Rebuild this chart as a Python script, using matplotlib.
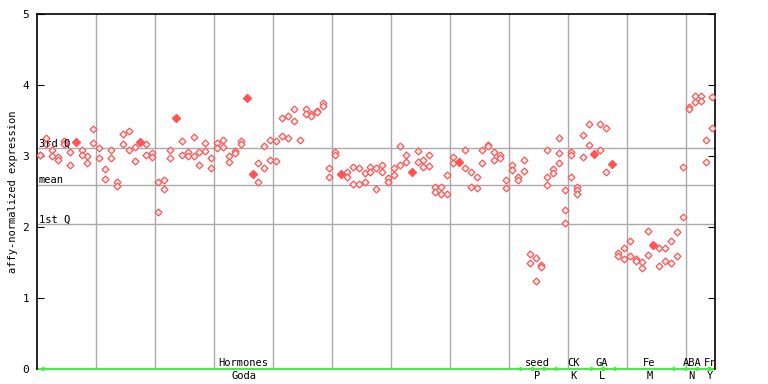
import numpy as np
import matplotlib
matplotlib.use("Agg")
import matplotlib.pyplot as plt

nan = np.nan

# replicate values per sample (two open diamonds per sample)
rep_a = [3.02, 3.25, 3.09, 2.98, 3.21, 3.05, nan, 3.08, 3.00, 3.38,
         3.11, 2.81, 3.09, 2.64, 3.31, 3.35, 3.13, nan, 3.17, 3.04,
         2.63, 2.66, 3.09, nan, 3.21, 3.05, 3.27, 3.05, 3.18, 2.97,
         3.18, 3.22, 3.00, 3.07, 3.21, nan, nan, 2.90, 3.14, 3.22,
         3.21, 3.53, 3.57, 3.66, 3.22, 3.66, 3.59, 3.64, 3.74, 2.83,
         3.06, nan, 2.78, 2.84, 2.83, 2.76, 2.85, 2.83, 2.87, 2.69,
         2.83, 3.14, 3.02, nan, 3.07, 2.94, 3.01, 2.56, 2.57, 2.73,
         2.98, nan, 3.09, 2.78, 2.70, 3.09, 3.16, 3.05, 3.02, 2.66,
         2.87, 2.70, 2.95, 1.62, 1.56, 1.47, 3.08, 2.81, 3.26, 2.52,
         3.05, 2.56, 3.29, 3.45, nan, 3.45, 3.40, nan, 1.64, 1.70,
         1.80, 1.55, 1.50, 1.94, nan, 1.71, 1.71, 1.80, 1.93, 2.84,
         3.69, 3.85, 3.84, 3.22, 3.83]
rep_b = [3.01, 3.17, 3.00, 2.95, 3.17, 2.87, nan, 3.01, 2.90, 3.18,
         2.97, 2.67, 2.97, 2.58, 3.17, 3.09, 2.93, nan, 3.02, 2.98,
         2.21, 2.53, 2.97, nan, 3.02, 3.00, 3.00, 2.88, 3.07, 2.83,
         3.11, 3.12, 2.91, 3.04, 3.17, nan, nan, 2.63, 2.83, 2.94,
         2.93, 3.28, 3.25, 3.50, nan, 3.59, 3.57, 3.62, 3.70, 2.71,
         3.01, nan, 2.71, 2.60, 2.60, 2.64, 2.77, 2.53, 2.78, 2.64,
         2.73, 2.87, 2.91, nan, 2.91, 2.84, 2.86, 2.49, 2.46, 2.47,
         2.90, nan, 2.83, 2.56, 2.55, 2.90, 3.14, 2.95, 2.97, 2.55,
         2.80, 2.66, 2.79, 1.49, 1.24, 1.44, 2.70, 2.76, 3.04, 2.24,
         3.02, 2.52, 2.98, 3.15, nan, 3.09, 2.78, nan, 1.59, 1.55,
         1.59, 1.52, 1.42, 1.60, nan, 1.45, 1.52, 1.49, 1.59, 2.14,
         3.66, 3.76, 3.77, 2.91, 3.40]
# third replicate where present
extra_idx = [86, 88, 89, 90, 91]
extra_val = [2.59, 2.90, 2.05, 2.71, 2.46]
# single filled markers
filled_idx = [6, 17, 23, 35, 36, 51, 63, 71, 94, 97, 104]
filled_val = [3.20, 3.20, 3.54, 3.82, 2.75, 2.75, 2.77, 2.92, 3.03, 2.89, 1.74]

q3, mean, q1 = 3.108, 2.586, 2.038

groups = ["Hormones", "seed", "CK", "GA", "Fe", "ABA", "Fr"]
subgroups = ["Goda", "P", "K", "L", "M", "N", "Y"]
g_start = [0, 83, 87, 95, 97, 109, 113]
g_end = [83, 87, 95, 97, 109, 113, 115]

red = "#ff5555"
green = "#44ee44"
mono = "DejaVu Sans Mono"

fig = plt.figure(figsize=(7.68, 3.84), dpi=100)
ax = fig.add_axes([0.0486, 0.0391, 0.8828, 0.9244])

n = len(rep_a)
xs = np.arange(n) + 0.5

for gx in range(10, 115, 10):
    ax.axvline(gx, color="#aaaaaa", lw=1, zorder=1)
for qy in (q3, mean, q1):
    ax.axhline(qy, color="#aaaaaa", lw=1, zorder=1)

kw = dict(ls="none", marker="D", ms=3.5, mfc="#fff0f0", mec=red, mew=0.9, zorder=3)
ax.plot(xs, rep_a, **kw)
ax.plot(xs, rep_b, **kw)
ax.plot(np.array(extra_idx) + 0.5, extra_val, **kw)
ax.plot(np.array(filled_idx) + 0.5, filled_val, ls="none", marker="D",
        ms=4.2, color=red, zorder=4)

ax.text(0.2, q3, "3rd Q", fontsize=7.5, family=mono, va="bottom", ha="left", zorder=5)
ax.text(0.2, mean, "mean", fontsize=7.5, family=mono, va="bottom", ha="left", zorder=5)
ax.text(0.2, q1, "1st Q", fontsize=7.5, family=mono, va="bottom", ha="left", zorder=5)

ax.set_xlim(0, 115)
ax.set_ylim(0, 5)
ax.set_yticks([0, 1, 2, 3, 4, 5])
ax.set_xticks([])
ax.tick_params(axis="y", direction="in", length=5, labelsize=8, left=True, right=True, pad=6)
for lab in ax.get_yticklabels():
    lab.set_family(mono)
ax.set_ylabel("affy-normalized expression", family=mono, fontsize=7.5, labelpad=3)

for s in ("left", "right", "top"):
    ax.spines[s].set_linewidth(1.2)
ax.spines["bottom"].set_visible(False)
ax.axhline(0, color=green, lw=1.5, zorder=2, clip_on=False)

lab_x = [35.0, 84.8, 90.9, 95.8, 103.8, 111.0, 114.1]
trans = ax.get_xaxis_transform()
for i in range(len(groups)):
    ax.annotate("", xy=(g_end[i] - 0.3, 0), xytext=(g_start[i] + 0.3, 0),
                arrowprops=dict(arrowstyle="<->", color=green, lw=1.0,
                                shrinkA=0, shrinkB=0, mutation_scale=6),
                annotation_clip=False, zorder=3)
    ax.text(lab_x[i], 0.018, groups[i], transform=trans, ha="center", va="center",
            fontsize=7.5, family=mono, clip_on=False)
    ax.text(lab_x[i], -0.02, subgroups[i], transform=trans, ha="center", va="center",
            fontsize=7.5, family=mono, clip_on=False)

fig.savefig("out.png", dpi=100)
